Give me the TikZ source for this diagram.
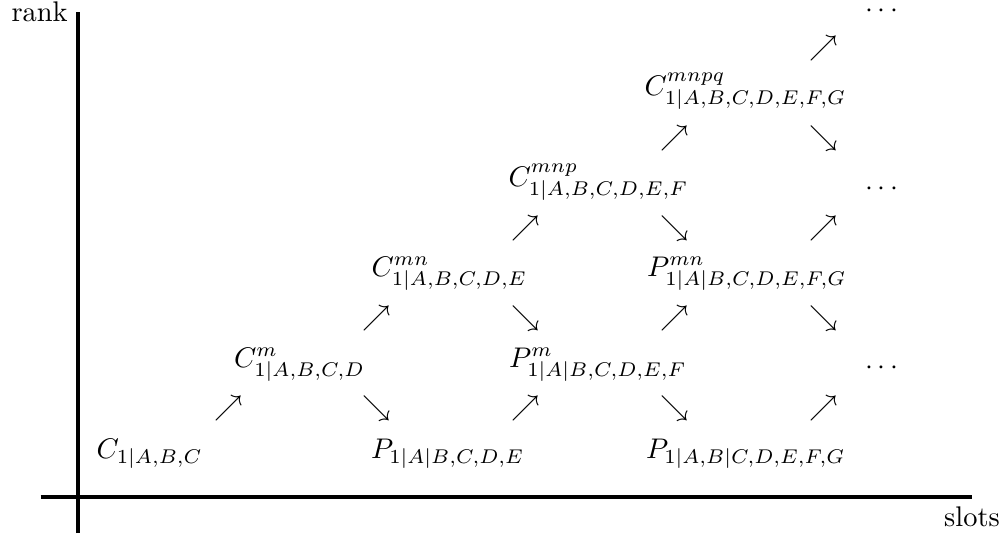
\documentclass[tikz,border=0pt]{standalone}
\usepackage{amsmath}
\begin{document}
\begin{tikzpicture}[x=0.352pt,y=-0.352pt,
  item/.style={anchor=base west,inner sep=0pt},
  arr/.style={anchor=center,inner sep=0pt},
  dts/.style={anchor=base,inner sep=0pt},
  axisline/.style={line width=1.4pt}]
\useasboundingbox (0,0) rectangle (1004,535);
% axes
\coordinate (ytop) at (77.7,11.7);
\coordinate (ybot) at (77.7,533);
\coordinate (xl) at (40.7,497);
\coordinate (xr) at (972,497);
\draw[axisline] (ybot) -- (ytop);
\draw[axisline] (xl) -- (xr);
\node[anchor=east] (rank) at (ytop) {rank};
\node[anchor=north] (slots) at (xr) {slots};
% items
\node[item] (c0) at (96,458) {$C_{1|A,B,C}$};
\node[item] (p0) at (370.5,458) {$P_{1|A|B,C,D,E}$};
\node[item] (p0b) at (645.5,458) {$P_{1|A,B|C,D,E,F,G}$};
\node[item] (c1) at (233.5,367) {$C^{m}_{1|A,B,C,D}$};
\node[item] (p1) at (508.5,367) {$P^{m}_{1|A|B,C,D,E,F}$};
\node[item] (c2) at (371,276) {$C^{mn}_{1|A,B,C,D,E}$};
\node[item] (p2) at (646.5,276) {$P^{mn}_{1|A|B,C,D,E,F,G}$};
\node[item] (c3) at (508,186) {$C^{mnp}_{1|A,B,C,D,E,F}$};
\node[item] (c4) at (644,95) {$C^{mnpq}_{1|A,B,C,D,E,F,G}$};
% dots
\node[dts] (d1) at (884,374) {$\cdots$};
\node[dts] (d3) at (884,195) {$\cdots$};
\node[dts] (d5) at (884,17) {$\cdots$};
% arrows row A
\node[arr] (a1) at (228.5,408) {$\nearrow$};
\node[arr] (a2) at (377,408) {$\searrow$};
\node[arr] (a3) at (526,408) {$\nearrow$};
\node[arr] (a4) at (675,408) {$\searrow$};
\node[arr] (a5) at (824,408) {$\nearrow$};
% arrows row B
\node[arr] (b1) at (377,318) {$\nearrow$};
\node[arr] (b2) at (526,318) {$\searrow$};
\node[arr] (b3) at (675,318) {$\nearrow$};
\node[arr] (b4) at (824,318) {$\searrow$};
% arrows row C
\node[arr] (e1) at (526,228) {$\nearrow$};
\node[arr] (e2) at (675,228) {$\searrow$};
\node[arr] (e3) at (824,228) {$\nearrow$};
% arrows row D
\node[arr] (f1) at (675,138) {$\nearrow$};
\node[arr] (f2) at (824,138) {$\searrow$};
% arrows row E
\node[arr] (g1) at (824,48) {$\nearrow$};
\end{tikzpicture}
\end{document}
